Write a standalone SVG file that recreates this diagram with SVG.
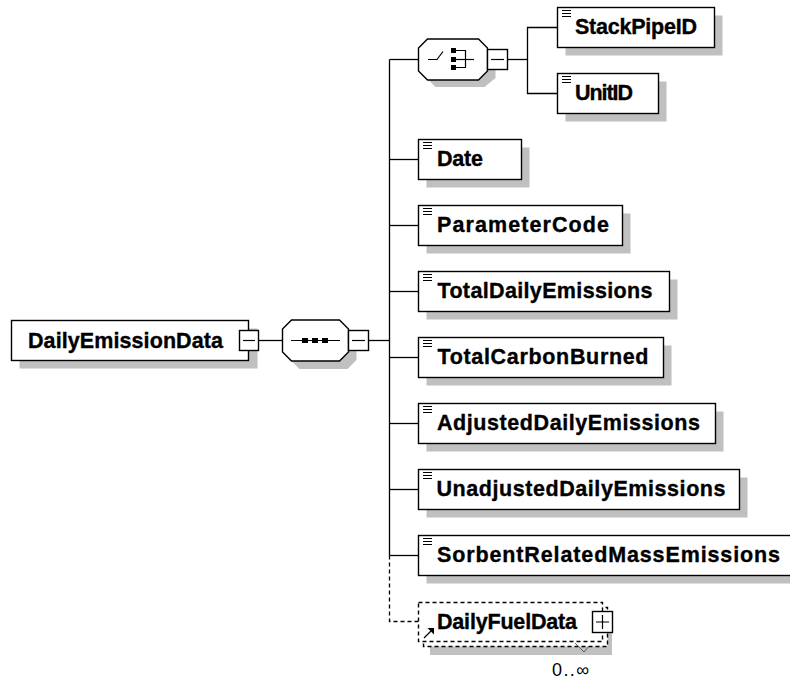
<svg xmlns="http://www.w3.org/2000/svg" width="790" height="679" viewBox="0 0 790 679">
<style>
.box{fill:#fff;stroke:#000;stroke-width:1.4}
.shadow{fill:#c0c0c0}
.lbl{font-family:"Liberation Sans",Arial,sans-serif;font-weight:bold;font-size:21.5px;fill:#000;stroke:#000;stroke-width:0.35}
.occ{font-family:"Liberation Sans",Arial,sans-serif;font-size:18px;fill:#000}
.ln{stroke:#000;stroke-width:1.3;fill:none}
.dash{stroke-dasharray:4 3}
.ico{stroke:#000;stroke-width:1.2;fill:none}
</style>
<rect width="790" height="679" fill="#fff"/>

<g id="connectors">
  <line class="ln" x1="258.5" y1="340.5" x2="282.5" y2="340.5"/>
  <line class="ln" x1="368.5" y1="340.5" x2="389.5" y2="340.5"/>
  <line class="ln" x1="389.5" y1="59.5" x2="389.5" y2="555.5"/>
  <line class="ln" x1="389.5" y1="59.5" x2="418.5" y2="59.5"/>
  <line class="ln" x1="389.5" y1="159.5" x2="418.5" y2="159.5"/>
  <line class="ln" x1="389.5" y1="225.5" x2="418.5" y2="225.5"/>
  <line class="ln" x1="389.5" y1="291.5" x2="418.5" y2="291.5"/>
  <line class="ln" x1="389.5" y1="357.5" x2="418.5" y2="357.5"/>
  <line class="ln" x1="389.5" y1="423.5" x2="418.5" y2="423.5"/>
  <line class="ln" x1="389.5" y1="489.5" x2="418.5" y2="489.5"/>
  <line class="ln" x1="389.5" y1="555.5" x2="418.5" y2="555.5"/>
  <polyline class="ln dash" points="389.5,555.5 389.5,621.5 418.5,621.5"/>
  <line class="ln" x1="507.5" y1="59.5" x2="527.5" y2="59.5"/>
  <polyline class="ln" points="557.5,27.5 527.5,27.5 527.5,93.5 557.5,93.5"/>
</g>

<g id="DailyEmissionData">
  <rect class="shadow" x="19.5" y="328.5" width="238" height="40"/>
  <rect class="box" x="11.5" y="320.5" width="237" height="40"/>
  <text class="lbl" x="28" y="347.5" textLength="195" lengthAdjust="spacing">DailyEmissionData</text>
  <rect class="box" x="239.5" y="330.5" width="19" height="20"/>
  <line class="ico" x1="243" y1="340.5" x2="255" y2="340.5"/>
</g>

<g id="sequence">
  <polygon class="shadow" points="299.5,328 347.5,328 356.5,337 356.5,360 347.5,369 299.5,369 290.5,360 290.5,337"/>
  <polygon class="box" points="291.5,320 339.5,320 348.5,329 348.5,352 339.5,361 291.5,361 282.5,352 282.5,329"/>
  <line class="ico" x1="291" y1="340.5" x2="340" y2="340.5"/>
  <rect x="302" y="338" width="6" height="5" fill="#000"/>
  <rect x="312" y="338" width="6" height="5" fill="#000"/>
  <rect x="322" y="338" width="6" height="5" fill="#000"/>
  <rect class="box" x="348.5" y="330.5" width="20" height="20"/>
  <line class="ico" x1="352" y1="340.5" x2="365" y2="340.5"/>
</g>

<g id="choice">
  <polygon class="shadow" points="435.5,47 484.5,47 495.5,56 495.5,78 484.5,87 435.5,87 426.5,78 426.5,56"/>
  <polygon class="box" points="427.5,39 478.5,39 487.5,48 487.5,71 478.5,80 427.5,80 418.5,71 418.5,48"/>
  <polyline class="ico" points="428,59.5 437,59.5 443,51.5"/>
  <rect x="451" y="48" width="5" height="5" fill="#000"/>
  <rect x="451" y="57" width="5" height="5" fill="#000"/>
  <rect x="451" y="65" width="5" height="5" fill="#000"/>
  <polyline class="ico" points="456,50.5 465.5,50.5 465.5,67.5 456,67.5"/>
  <line class="ico" x1="456" y1="59.5" x2="474" y2="59.5"/>
  <rect class="box" x="487.5" y="49.5" width="20" height="20"/>
  <line class="ico" x1="491" y1="59.5" x2="504" y2="59.5"/>
</g>

<g id="StackPipeID">
  <rect class="shadow" x="565.5" y="15.5" width="157" height="40"/>
  <rect class="box" x="557.5" y="7.5" width="157" height="40"/>
  <path class="ico" d="M562,10.5h9M562,13.5h9M562,16.5h9"/>
  <text class="lbl" x="575" y="34" textLength="122" lengthAdjust="spacing">StackPipeID</text>
</g>
<g id="UnitID">
  <rect class="shadow" x="565.5" y="81.5" width="101" height="40"/>
  <rect class="box" x="557.5" y="73.5" width="101" height="40"/>
  <path class="ico" d="M562,76.5h9M562,79.5h9M562,82.5h9"/>
  <text class="lbl" x="575" y="100" textLength="58" lengthAdjust="spacing">UnitID</text>
</g>
<g id="Date">
  <rect class="shadow" x="426.5" y="147.5" width="103" height="40"/>
  <rect class="box" x="418.5" y="139.5" width="103" height="40"/>
  <path class="ico" d="M423,142.5h9M423,145.5h9M423,148.5h9"/>
  <text class="lbl" x="437" y="166" textLength="46" lengthAdjust="spacing">Date</text>
</g>
<g id="ParameterCode">
  <rect class="shadow" x="426.5" y="213.5" width="204" height="40"/>
  <rect class="box" x="418.5" y="205.5" width="204" height="40"/>
  <path class="ico" d="M423,208.5h9M423,211.5h9M423,214.5h9"/>
  <text class="lbl" x="437" y="232" textLength="172" lengthAdjust="spacing">ParameterCode</text>
</g>
<g id="TotalDailyEmissions">
  <rect class="shadow" x="426.5" y="279.5" width="251" height="40"/>
  <rect class="box" x="418.5" y="271.5" width="251" height="40"/>
  <path class="ico" d="M423,274.5h9M423,277.5h9M423,280.5h9"/>
  <text class="lbl" x="437.5" y="298" textLength="215" lengthAdjust="spacing">TotalDailyEmissions</text>
</g>
<g id="TotalCarbonBurned">
  <rect class="shadow" x="426.5" y="345.5" width="245" height="40"/>
  <rect class="box" x="418.5" y="337.5" width="245" height="40"/>
  <path class="ico" d="M423,340.5h9M423,343.5h9M423,346.5h9"/>
  <text class="lbl" x="437.5" y="364" textLength="211" lengthAdjust="spacing">TotalCarbonBurned</text>
</g>
<g id="AdjustedDailyEmissions">
  <rect class="shadow" x="426.5" y="411.5" width="297" height="40"/>
  <rect class="box" x="418.5" y="403.5" width="297" height="40"/>
  <path class="ico" d="M423,406.5h9M423,409.5h9M423,412.5h9"/>
  <text class="lbl" x="437" y="430" textLength="263" lengthAdjust="spacing">AdjustedDailyEmissions</text>
</g>
<g id="UnadjustedDailyEmissions">
  <rect class="shadow" x="426.5" y="477.5" width="321" height="40"/>
  <rect class="box" x="418.5" y="469.5" width="321" height="40"/>
  <path class="ico" d="M423,472.5h9M423,475.5h9M423,478.5h9"/>
  <text class="lbl" x="436.5" y="496" textLength="289" lengthAdjust="spacing">UnadjustedDailyEmissions</text>
</g>
<g id="SorbentRelatedMassEmissions">
  <rect class="shadow" x="426.5" y="543.5" width="378" height="40"/>
  <rect class="box" x="418.5" y="535.5" width="378" height="40"/>
  <path class="ico" d="M423,538.5h9M423,541.5h9M423,544.5h9"/>
  <text class="lbl" x="437" y="562" textLength="343" lengthAdjust="spacing">SorbentRelatedMassEmissions</text>
</g>
<g id="DailyFuelData">
  <rect class="shadow" x="430" y="613" width="182" height="42"/>
  <rect class="box dash" x="423.5" y="607.5" width="184" height="39"/>
  <rect class="box dash" x="418.5" y="602.5" width="184" height="39"/>
  <text class="lbl" x="437" y="629" textLength="140" lengthAdjust="spacing">DailyFuelData</text>
  <rect class="box" x="592.5" y="611.5" width="20" height="21"/>
  <path class="ico" d="M596,622h13M602.5,615v14"/>
  <line class="ico" x1="424" y1="638" x2="431" y2="631"/>
  <polygon points="434,628 434,634.5 427.5,628" fill="#000"/>
  <polyline points="575,643 584,652 589,646" fill="none" stroke="#606060" stroke-width="1"/>
  <text class="occ" x="552" y="676" textLength="37" lengthAdjust="spacing">0..∞</text>
</g>
</svg>
